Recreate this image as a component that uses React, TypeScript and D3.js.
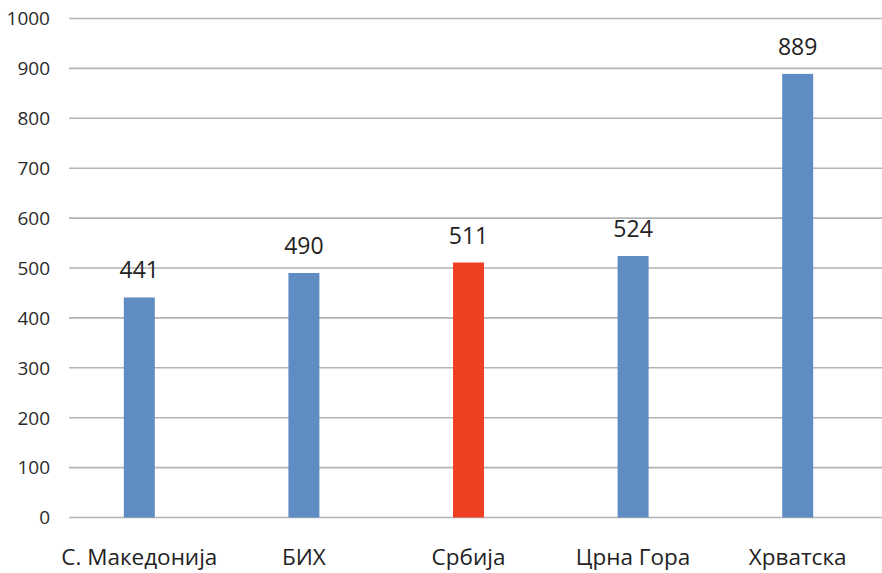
import React, { useEffect, useRef } from "react";
import * as d3 from "d3";

const categories = ["С. Македонија", "БИХ", "Србија", "Црна Гора", "Хрватска"];
const values = [441, 490, 511, 524, 889];
const highlight = ["Србија"];
const yTicks = [0, 100, 200, 300, 400, 500, 600, 700, 800, 900, 1000];

const W = 882;
const H = 573;

export default function App() {
  const ref = useRef<SVGSVGElement | null>(null);
  useEffect(() => {
    const svg = d3.select(ref.current);
    svg.selectAll("*").remove();
    const font = "'Open Sans', sans-serif";
    const x = d3.scaleBand<string>().domain(categories).range([57, 880]).paddingInner(0.81).paddingOuter(0.405);
    const y = d3.scaleLinear().domain([0, 1000]).range([517.5, 18.5]);

    const g = svg.append("g");
    g.selectAll("line.grid")
      .data(yTicks)
      .enter()
      .append("line")
      .attr("x1", 69)
      .attr("x2", W)
      .attr("y1", (d) => y(d))
      .attr("y2", (d) => y(d))
      .attr("stroke", "#b3b3b3")
      .attr("stroke-width", 1.6);

    g.selectAll("text.ytick")
      .data(yTicks)
      .enter()
      .append("text")
      .attr("x", 50)
      .attr("y", (d) => y(d))
      .attr("dy", "0.36em")
      .attr("text-anchor", "end")
      .attr("font-family", font)
      .attr("font-size", 19)
      .attr("fill", "#2b2b2b")
      .text((d) => String(d));

    const data = categories.map((c, i) => ({ c, v: values[i] }));
    const bw = 31;
    g.selectAll("rect.bar")
      .data(data)
      .enter()
      .append("rect")
      .attr("x", (d) => (x(d.c) as number) + x.bandwidth() / 2 - bw / 2)
      .attr("y", (d) => y(d.v))
      .attr("width", bw)
      .attr("height", (d) => y(0) - y(d.v))
      .attr("fill", (d) => (highlight.includes(d.c) ? "#ef4023" : "#5f8dc3"));

    g.selectAll("text.val")
      .data(data)
      .enter()
      .append("text")
      .attr("x", (d) => (x(d.c) as number) + x.bandwidth() / 2)
      .attr("y", (d) => y(d.v) - 19)
      .attr("text-anchor", "middle")
      .attr("font-family", font)
      .attr("font-size", 23)
      .attr("fill", "#222")
      .text((d) => String(d.v));

    g.selectAll("text.cat")
      .data(categories)
      .enter()
      .append("text")
      .attr("x", (d) => (x(d) as number) + x.bandwidth() / 2)
      .attr("y", 565)
      .attr("text-anchor", "middle")
      .attr("font-family", font)
      .attr("font-size", 22.5)
      .attr("fill", "#222")
      .text((d) => d);
  }, []);
  return (
    <svg
      ref={ref}
      width={W}
      height={H}
      style={{ position: "absolute", left: 0, top: 0, background: "#fff" }}
    />
  );
}
